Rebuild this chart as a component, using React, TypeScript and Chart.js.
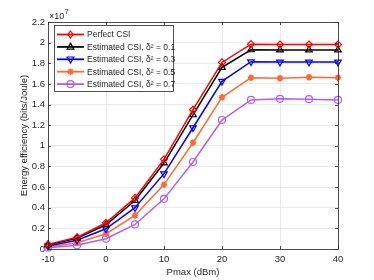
import React, { useEffect, useRef } from "react";
import { Chart, registerables } from "chart.js";

Chart.register(...registerables);

const pmax = [-10, -5, 0, 5, 10, 15, 20, 25, 30, 35, 40];
const perfectCSI = [0.045, 0.113, 0.254, 0.495, 0.869, 1.35, 1.808, 1.985, 1.982, 1.982, 1.982];
const est01 = [0.04, 0.105, 0.235, 0.47, 0.833, 1.3, 1.76, 1.93, 1.928, 1.928, 1.928];
const est03 = [0.03, 0.085, 0.196, 0.4, 0.73, 1.175, 1.625, 1.815, 1.812, 1.812, 1.812];
const est05 = [0.02, 0.06, 0.148, 0.325, 0.624, 1.03, 1.47, 1.66, 1.655, 1.665, 1.66];
const est07 = [0.012, 0.036, 0.1, 0.238, 0.486, 0.843, 1.25, 1.445, 1.455, 1.452, 1.445];

const seriesLabels = [
  "Perfect CSI",
  "Estimated CSI, δ² = 0.1",
  "Estimated CSI, δ² = 0.3",
  "Estimated CSI, δ² = 0.5",
  "Estimated CSI, δ² = 0.7",
];
const xTitle = "Pmax (dBm)";
const yTitle = "Energy efficiency (bits/Joule)";

const FONT = "'Liberation Sans', Arial, sans-serif";
const TXT = "#262626";

const styles = [
  { color: "#ff0000", point: "rectRot", rot: 0, fill: false, r: 3.5 },
  { color: "#000000", point: "triangle", rot: 0, fill: false, r: 3.8 },
  { color: "#0000ff", point: "triangle", rot: 180, fill: false, r: 3.8 },
  { color: "#ff6a33", point: "star", rot: 0, fill: true, r: 3.2 },
  { color: "#b05cff", point: "circle", rot: 0, fill: false, r: 3.5 },
];
const allData = [perfectCSI, est01, est03, est05, est07];

function drawMarker(ctx: any, st: any, x: number, y: number) {
  const r = st.r;
  ctx.save();
  ctx.strokeStyle = st.color;
  ctx.fillStyle = st.fill ? st.color : "#ffffff";
  ctx.lineWidth = 1.2;
  ctx.beginPath();
  if (st.point === "rectRot") {
    ctx.moveTo(x, y - r); ctx.lineTo(x + r * 0.75, y); ctx.lineTo(x, y + r); ctx.lineTo(x - r * 0.75, y); ctx.closePath();
    ctx.stroke();
  } else if (st.point === "triangle") {
    const s = st.rot === 180 ? -1 : 1;
    ctx.moveTo(x, y - s * r); ctx.lineTo(x + r * 0.9, y + s * r * 0.6); ctx.lineTo(x - r * 0.9, y + s * r * 0.6); ctx.closePath();
    ctx.stroke();
  } else if (st.point === "star") {
    for (let k = 0; k < 4; k++) {
      const ang = (k * Math.PI) / 4;
      ctx.moveTo(x + Math.cos(ang) * r, y + Math.sin(ang) * r);
      ctx.lineTo(x - Math.cos(ang) * r, y - Math.sin(ang) * r);
    }
    ctx.lineWidth = 1.6;
    ctx.stroke();
  } else {
    ctx.arc(x, y, r, 0, Math.PI * 2);
    ctx.stroke();
  }
  ctx.restore();
}

const overlay = {
  id: "overlay",
  afterDraw(chart: any) {
    const ctx = chart.ctx;
    const a = chart.chartArea;
    const xs = chart.scales.x;
    const ys = chart.scales.y;
    ctx.save();
    ctx.strokeStyle = TXT;
    ctx.lineWidth = 0.8;
    ctx.beginPath();
    xs.ticks.forEach((t: any) => {
      const px = Math.round(xs.getPixelForValue(t.value)) + 0.5;
      ctx.moveTo(px, a.bottom);
      ctx.lineTo(px, a.bottom - 3);
      ctx.moveTo(px, a.top);
      ctx.lineTo(px, a.top + 3);
    });
    ys.ticks.forEach((t: any) => {
      const py = Math.round(ys.getPixelForValue(t.value)) + 0.5;
      ctx.moveTo(a.left, py);
      ctx.lineTo(a.left + 3, py);
      ctx.moveTo(a.right, py);
      ctx.lineTo(a.right - 3, py);
    });
    ctx.stroke();
    ctx.strokeRect(Math.round(a.left) + 0.5, Math.round(a.top) + 0.5, Math.round(a.right - a.left), Math.round(a.bottom - a.top));

    ctx.fillStyle = TXT;
    ctx.font = `9px ${FONT}`;
    ctx.textBaseline = "alphabetic";
    ctx.textAlign = "left";
    ctx.fillText("×10", a.left + 1, a.top - 3);
    const w = ctx.measureText("×10").width;
    ctx.font = `7px ${FONT}`;
    ctx.fillText("7", a.left + 1 + w + 0.5, a.top - 8);

    ctx.font = `9.5px ${FONT}`;
    ctx.textAlign = "center";
    ctx.textBaseline = "middle";
    ctx.fillText(xTitle, (a.left + a.right) / 2, 272);
    ctx.save();
    ctx.translate(24, (a.top + a.bottom) / 2);
    ctx.rotate(-Math.PI / 2);
    ctx.fillText(yTitle, 0, 0);
    ctx.restore();

    const bx = a.left + 6, by = a.top + 3, bw = 119, bh = 66;
    ctx.fillStyle = "#ffffff";
    ctx.fillRect(bx, by, bw, bh);
    ctx.strokeStyle = TXT;
    ctx.lineWidth = 0.8;
    ctx.strokeRect(bx + 0.5, by + 0.5, bw, bh);
    ctx.font = `8.5px ${FONT}`;
    ctx.textAlign = "left";
    ctx.textBaseline = "middle";
    seriesLabels.forEach((lab, i) => {
      const st = styles[i];
      const y = by + 9.5 + i * 12.4;
      ctx.strokeStyle = st.color;
      ctx.lineWidth = 1.8;
      ctx.beginPath();
      ctx.moveTo(bx + 3, y);
      ctx.lineTo(bx + 30, y);
      ctx.stroke();
      drawMarker(ctx, st, bx + 16.5, y);
      ctx.fillStyle = TXT;
      ctx.fillText(lab, bx + 33, y + 0.5);
    });
    ctx.restore();
  },
};

export default function App() {
  const ref = useRef<HTMLCanvasElement>(null);
  useEffect(() => {
    if (!ref.current) return;
    const chart = new Chart(ref.current, {
      type: "line",
      data: {
        datasets: allData.map((d, i) => ({
          label: seriesLabels[i],
          data: d.map((v, j) => ({ x: pmax[j], y: v })),
          borderColor: styles[i].color,
          backgroundColor: styles[i].fill ? styles[i].color : "rgba(255,255,255,0)",
          pointBorderColor: styles[i].color,
          borderWidth: 1.5,
          pointStyle: styles[i].point as any,
          rotation: styles[i].rot,
          pointRadius: styles[i].r,
          pointBorderWidth: styles[i].point === "star" ? 1.8 : 1.2,
          tension: 0,
          clip: false as any,
        })),
      },
      options: {
        animation: false,
        responsive: false,
        maintainAspectRatio: false,
        layout: { padding: { left: 0, top: 22, right: 36, bottom: 0 } },
        plugins: { legend: { display: false }, tooltip: { enabled: false } },
        scales: {
          x: {
            type: "linear",
            min: -10,
            max: 40,
            border: { display: false },
            grid: { color: "#e3e3e3", lineWidth: 0.8, drawTicks: false },
            ticks: {
              stepSize: 10,
              padding: 5,
              color: TXT,
              font: { family: FONT, size: 9.5 },
              callback: (v: any) => String(v),
            },
            afterFit: (s: any) => { s.height = 31; },
          },
          y: {
            min: 0,
            max: 2.2,
            border: { display: false },
            grid: { color: "#e3e3e3", lineWidth: 0.8, drawTicks: false },
            ticks: {
              stepSize: 0.2,
              padding: 3,
              color: TXT,
              font: { family: FONT, size: 9.5 },
              callback: (v: any) => String(Math.round(v * 10) / 10),
            },
            afterFit: (s: any) => { s.width = 48; },
          },
        },
      },
      plugins: [overlay],
    });
    return () => chart.destroy();
  }, []);
  return (
    <div style={{ position: "fixed", left: 0, top: 0, width: 374, height: 280, background: "#fff" }}>
      <canvas ref={ref} width={374} height={280} style={{ width: 374, height: 280 }} />
    </div>
  );
}
